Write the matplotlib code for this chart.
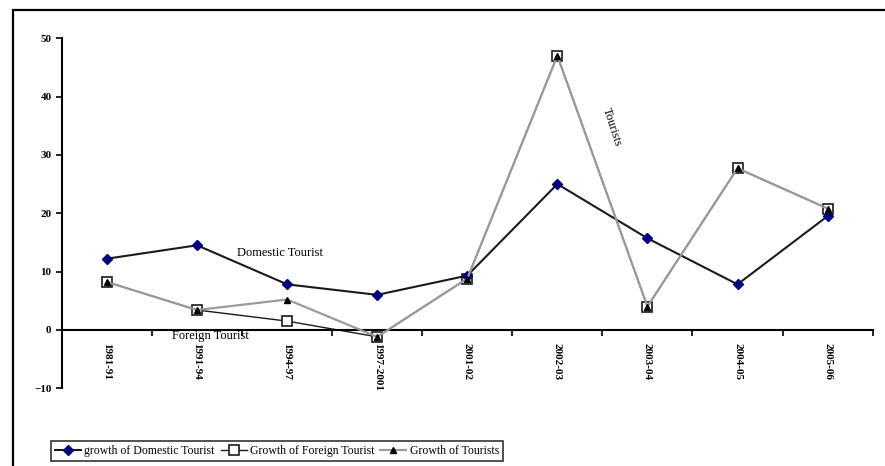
import matplotlib.pyplot as plt
from matplotlib.patches import Rectangle

periods = ['1981-91', '1991-94', '1994-97', '1997-2001', '2001-02',
           '2002-03', '2003-04', '2004-05', '2005-06']
domestic = [12.2, 14.5, 7.8, 6.0, 9.3, 25.0, 15.7, 7.8, 19.5]
foreign = [8.2, 3.4, 1.5, -1.2, 8.8, 47.0, 4.0, 27.7, 20.8]
tourists = [8.2, 3.4, 5.2, -1.2, 8.8, 47.0, 4.0, 27.7, 20.8]

plt.rcParams['font.family'] = ['Liberation Serif', 'DejaVu Serif']

fig = plt.figure(figsize=(8.85, 4.66), dpi=100)
ax = fig.add_axes([0.070, 0.167, 0.916, 0.751])

x = list(range(len(periods)))
ax.plot(x, domestic, color='#1a1a1a', lw=1.5, marker='D', ms=5.5,
        mfc='#000080', mec='#000080', zorder=3,
        label='growth of Domestic Tourist')
ax.plot(x, foreign, color='#1a1a1a', lw=1.0, marker='s', ms=7.5,
        mfc='white', mec='#1a1a1a', mew=1.2, zorder=2,
        label='Growth of Foreign Tourist')
ax.plot(x, tourists, color='#9a9a9a', lw=1.6, marker='^', ms=5,
        mfc='black', mec='black', zorder=4,
        label='Growth of Tourists')

ax.set_xlim(-0.5, len(periods) - 0.5)
ax.set_ylim(-10, 50)
ax.set_yticks([-10, 0, 10, 20, 30, 40, 50])
ax.tick_params(axis='y', direction='out', length=4, width=1.2, labelsize=8)
for lbl in ax.get_yticklabels():
    lbl.set_fontweight('bold')

# category axis crossing at zero, ticks between categories
ax.spines['top'].set_visible(False)
ax.spines['right'].set_visible(False)
ax.spines['bottom'].set_position(('data', 0))
ax.spines['bottom'].set_linewidth(1.5)
ax.spines['left'].set_linewidth(1.5)
ax.set_xticks([i - 0.5 for i in range(len(periods) + 1)])
ax.set_xticklabels([])
ax.tick_params(axis='x', direction='out', length=4, width=1.2)
for i, p in enumerate(periods):
    ax.text(i, -2.3, p, rotation=-90, ha='center', va='top',
            fontsize=8, fontweight='bold')

ax.text(1.44, 13.2, 'Domestic Tourist', fontsize=9, va='center')
ax.text(0.72, -1.0, 'Foreign Tourist', fontsize=9, va='center')
ax.text(5.61, 34.8, 'Tourists', fontsize=9, rotation=-72,
        ha='center', va='center')

leg = ax.legend(loc='center', bbox_to_anchor=(277 / 885, 1 - 451 / 466),
                bbox_transform=fig.transFigure, ncol=3, frameon=True,
                fancybox=False, edgecolor='black', fontsize=8.5,
                handlelength=2.2, handletextpad=0.3, columnspacing=0.5,
                borderpad=0.3, borderaxespad=0)
leg.get_frame().set_linewidth(1.2)

fig.patches.append(Rectangle((13 / 885, -0.1), 1.2, 1.1 - 10 / 466,
                             transform=fig.transFigure, fill=False,
                             edgecolor='black', lw=1.6))

fig.savefig('out.png', dpi=100)
